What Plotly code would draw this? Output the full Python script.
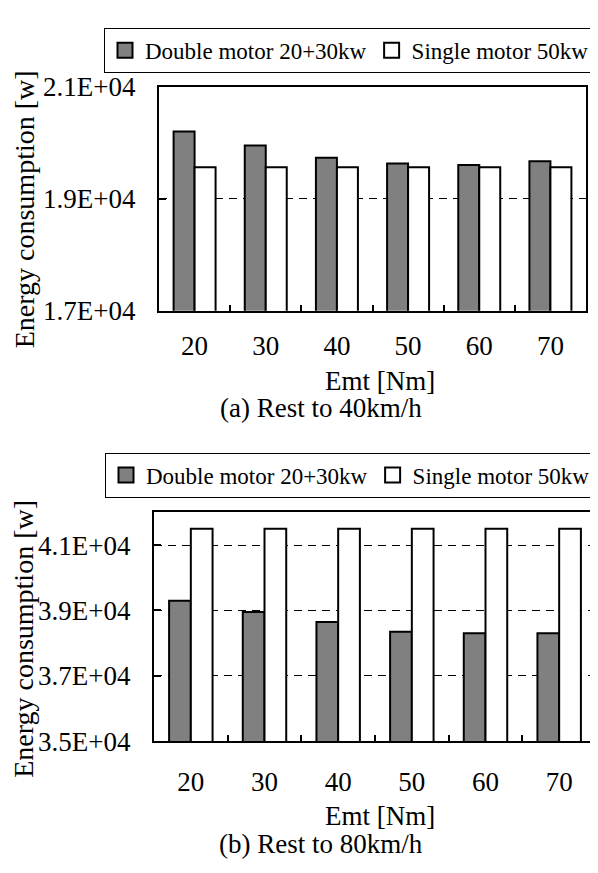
import plotly.graph_objects as go

# ---------------- data ----------------
categories = ["20", "30", "40", "50", "60", "70"]

top_double = [20200, 19950, 19730, 19630, 19600, 19670]
top_single = [19560, 19560, 19560, 19560, 19560, 19560]

bot_double = [39300, 38950, 38650, 38350, 38300, 38300]
bot_single = [41500, 41500, 41500, 41500, 41500, 41500]

top_tick_vals = [17000, 19000, 21000]
top_tick_text = ["1.7E+04", "1.9E+04", "2.1E+04"]
bot_tick_vals = [35000, 37000, 39000, 41000]
bot_tick_text = ["3.5E+04", "3.7E+04", "3.9E+04", "4.1E+04"]

series_names = ["Double motor 20+30kw", "Single motor 50kw"]
x_title = "Emt [Nm]"
y_title = "Energy consumption [w]"
captions = ["(a) Rest to 40km/h", "(b) Rest to 80km/h"]

# ---------------- layout helpers ----------------
W, H = 598, 873
OFF = 8  # default body margin of the html page
FW, FH = W - OFF, H - OFF
FONT = "Liberation Serif, Times New Roman, serif"
GRAY = "#808080"


def px_x(x):
    return (x - OFF) / FW


def px_y(y):
    return 1 - (y - OFF) / FH


fig = go.Figure()

# legend proxies (square markers)
for leg, xa, ya in [("legend", "x", "y"), ("legend2", "x2", "y2")]:
    fig.add_trace(go.Scatter(
        x=[None], y=[None], mode="markers", name=series_names[0],
        marker=dict(symbol="square", size=15, color=GRAY, line=dict(color="black", width=2)),
        legend=leg, xaxis=xa, yaxis=ya, showlegend=True, hoverinfo="skip"))
    fig.add_trace(go.Scatter(
        x=[None], y=[None], mode="markers", name=series_names[1],
        marker=dict(symbol="square", size=15, color="white", line=dict(color="black", width=2)),
        legend=leg, xaxis=xa, yaxis=ya, showlegend=True, hoverinfo="skip"))

# bars
bar_line = dict(color="black", width=2)
fig.add_trace(go.Bar(x=categories, y=top_double, name=series_names[0], marker=dict(color=GRAY, line=bar_line),
                     xaxis="x", yaxis="y", showlegend=False))
fig.add_trace(go.Bar(x=categories, y=top_single, name=series_names[1], marker=dict(color="white", line=bar_line),
                     xaxis="x", yaxis="y", showlegend=False))
fig.add_trace(go.Bar(x=categories, y=bot_double, name=series_names[0], marker=dict(color=GRAY, line=bar_line),
                     xaxis="x2", yaxis="y2", showlegend=False))
fig.add_trace(go.Bar(x=categories, y=bot_single, name=series_names[1], marker=dict(color="white", line=bar_line),
                     xaxis="x2", yaxis="y2", showlegend=False))

tickfont = dict(family=FONT, size=27, color="black")

xcommon = dict(type="category", tickson="boundaries", ticks="inside", ticklen=6, tickwidth=1.5,
               tickcolor="black", showline=True, linecolor="black", linewidth=2, mirror=True,
               showgrid=False, zeroline=False, tickfont=tickfont, fixedrange=True)
ycommon = dict(ticks="inside", ticklen=7, tickwidth=1.5, tickcolor="black", showline=True,
               linecolor="black", linewidth=2, mirror=True, showgrid=True, gridcolor="black",
               gridwidth=1, griddash="8px,6px", zeroline=False, tickfont=tickfont, fixedrange=True,
               ticklabelstandoff=16)

legend_common = dict(xanchor="right", yanchor="top", orientation="h",
                     bordercolor="black", borderwidth=1, bgcolor="white",
                     font=dict(family=FONT, size=23, color="black"), itemwidth=30)

fig.update_layout(
    width=FW, height=FH,
    margin=dict(l=0, r=0, t=0, b=0),
    paper_bgcolor="white", plot_bgcolor="white",
    barmode="group", bargap=0.41, bargroupgap=0,
    font=dict(family=FONT, color="black"),
    xaxis=dict(domain=[px_x(159), px_x(586)], anchor="y", ticklabelstandoff=10, **xcommon),
    yaxis=dict(domain=[px_y(306), px_y(74)], anchor="x", range=[17000, 21000],
               tickvals=top_tick_vals, ticktext=top_tick_text, **ycommon),
    xaxis2=dict(domain=[px_x(154), px_x(596)], anchor="y2", ticklabelstandoff=15, **xcommon),
    yaxis2=dict(domain=[px_y(752), px_y(515)], anchor="x2", range=[35000, 42000],
                tickvals=bot_tick_vals, ticktext=bot_tick_text, **ycommon),
    legend=dict(x=px_x(595), y=px_y(13), **legend_common),
    legend2=dict(x=px_x(596), y=px_y(453), **legend_common),
)

annos = []
# y titles
for yc in [201, 646]:
    annos.append(dict(text=y_title, x=px_x(24), y=px_y(yc), xref="paper", yref="paper",
                      showarrow=False, textangle=-90, font=dict(family=FONT, size=28, color="black"),
                      xanchor="center", yanchor="middle"))
# x titles
for yc in [379, 830]:
    annos.append(dict(text=x_title, x=px_x(380), y=px_y(yc), xref="paper", yref="paper",
                      showarrow=False, font=dict(family=FONT, size=27, color="black"),
                      xanchor="center", yanchor="middle"))
# captions
for cap, yc in zip(captions, [407, 858]):
    annos.append(dict(text=cap, x=px_x(321), y=px_y(yc), xref="paper", yref="paper",
                      showarrow=False, font=dict(family=FONT, size=27, color="black"),
                      xanchor="center", yanchor="middle"))
fig.update_layout(annotations=annos)

fig.write_html("out.html")
